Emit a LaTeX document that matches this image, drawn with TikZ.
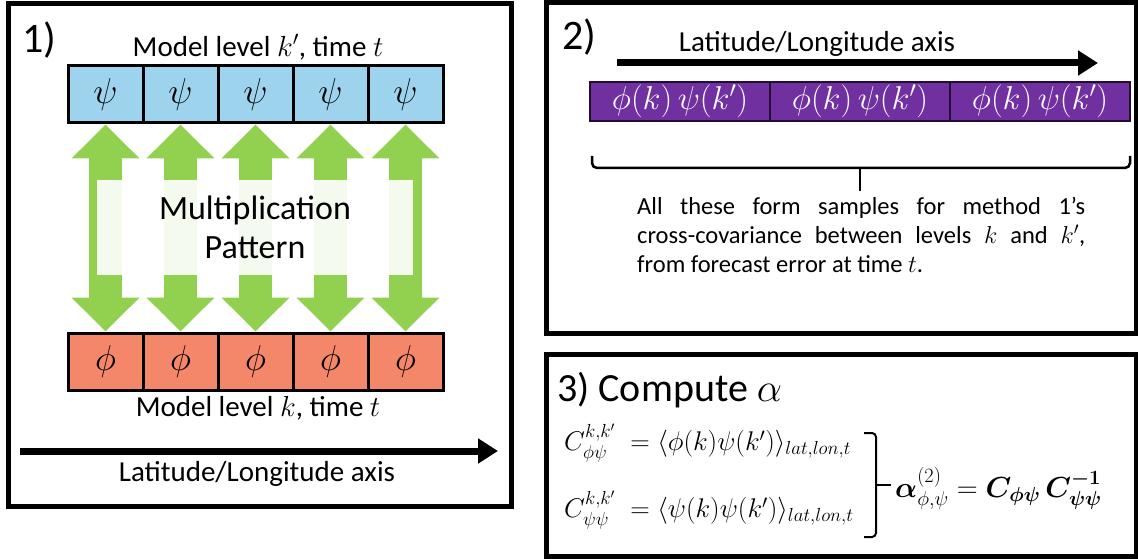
\RequirePackage{fix-cm}
\documentclass[tikz,border=0pt]{standalone}
\usepackage{amsmath,bm}
\usepackage[no-math]{fontspec}
\setmainfont{Carlito}
\usetikzlibrary{arrows.meta}
\definecolor{cellblue}{RGB}{158,211,238}
\definecolor{cellorange}{RGB}{244,135,106}
\definecolor{arrgreen}{RGB}{146,208,80}
\definecolor{purp}{RGB}{112,48,160}
\begin{document}
\begin{tikzpicture}[x=1pt,y=-1pt,
  panel/.style={draw=black,line width=5pt,inner sep=0pt},
  cellbase/.style={draw=black,line width=3pt,minimum width=75pt,minimum height=57pt,inner sep=0pt,font=\fontsize{36}{42}\selectfont},
  bluecell/.style={cellbase,fill=cellblue},
  orangecell/.style={cellbase,fill=cellorange},
  purpcell/.style={draw=black!70!purp,line width=2pt,fill=purp,minimum width=180pt,minimum height=39pt,inner sep=0pt,text=white,font=\fontsize{33}{38}\selectfont},
  greenarr/.style={draw=arrgreen,line width=33pt,{Triangle[length=34pt,width=66pt]}-{Triangle[length=34pt,width=66pt]}},
  axisarrow/.style={draw=black,line width=7pt,-{Triangle[length=20pt,width=24pt]}},
  lbl/.style={inner sep=0pt,font=\fontsize{29}{35}\selectfont},
  big/.style={inner sep=0pt,font=\fontsize{42}{50}\selectfont},
  brk/.style={draw=black,line width=2.5pt},
  eqn/.style={anchor=west,inner sep=0pt,font=\fontsize{27}{32}\selectfont}
]
\useasboundingbox (0,0) rectangle (1138,559);
% panels
\node[panel,minimum width=503pt,minimum height=502pt] (p1) at (259.5,255) {};
\node[panel,minimum width=590pt,minimum height=330pt] (p2) at (841,168) {};
\node[panel,minimum width=590pt,minimum height=202pt] (p3) at (841,455) {};
% panel 1
\node[big,anchor=west] (n1) at (22,40) {1)};
\node[lbl] (top) at (258,47) {Model level $k'$, time $t$};
\foreach \i in {1,...,5}{
  \node[bluecell] (b\i) at ({68+37.5+75*(\i-1)},94.5) {$\psi$};
  \node[orangecell] (o\i) at ({68+37.5+75*(\i-1)},361.5) {$\phi$};
}
\foreach \i in {1,...,5}{
  \draw[greenarr] (b\i.south) -- (o\i.north);
}
\node[fill=white,fill opacity=0.9,text opacity=1,minimum width=316pt,minimum height=95pt,align=center,inner sep=0pt,font=\fontsize{34}{39}\selectfont] (mult) at (255,227.5) {Multiplication\\Pattern};
\node[lbl] (bot) at (258,408) {Model level $k$, time $t$};
\coordinate (a1s) at (20,451);
\coordinate (a1e) at (498,451);
\draw[axisarrow] (a1s) -- (a1e);
\node[lbl] (ax1) at (257,474) {Latitude/Longitude axis};
% panel 2
\node[big,anchor=west] (n2) at (562,37) {2)};
\node[lbl] (ax2) at (817,44) {Latitude/Longitude axis};
\coordinate (a2s) at (617,63);
\coordinate (a2e) at (1098,63);
\draw[axisarrow] (a2s) -- (a2e);
\foreach \i in {1,2,3}{
  \node[purpcell] (c\i) at ({590+90+180*(\i-1)},101.5) {$\phi(k)\,\psi(k')$};
}
\coordinate (brL) at (592,156);
\coordinate (brR) at (1130,156);
\coordinate (brM) at (860,168);
\coordinate (brT) at (860,191);
\draw[brk,rounded corners=5pt] (brL) -- (592,168) -- (1130,168) -- (brR);
\draw[brk] (brM) -- (brT);
\node[anchor=north west,inner sep=0pt,text width=448pt,align=justify,font=\fontsize{24.5}{29}\selectfont] (note) at (637,197)
{\hyphenpenalty=10000 \exhyphenpenalty=10000 All these form samples for method 1's\linebreak cross-covariance between levels $k$ and $k'$,\linebreak from forecast error at time $t$.};
% panel 3
\node[anchor=west,inner sep=0pt,font=\fontsize{40}{48}\selectfont] (n3) at (557,390) {3) Compute $\alpha$};
\node[eqn] (eq1) at (564,443)
{$C^{k,k'}_{\phi\psi}\;=\langle\phi(k)\psi(k')\rangle_{lat,lon,t}$};
\node[eqn] (eq2) at (564,510)
{$C^{k,k'}_{\psi\psi}\;=\langle\psi(k)\psi(k')\rangle_{lat,lon,t}$};
\coordinate (bkT) at (864,433);
\coordinate (bkB) at (864,537);
\coordinate (bkM) at (876,485);
\coordinate (bkE) at (891,485);
\draw[brk,line width=2pt,rounded corners=4pt] (bkT) -- (876,433) -- (876,537) -- (bkB);
\draw[brk,line width=2pt] (bkM) -- (bkE);
\node[anchor=west,inner sep=0pt,font=\fontsize{29}{35}\selectfont] (alpha) at (895,488)
{$\bm{\alpha}^{(2)}_{\phi,\psi}=\bm{C}_{\bm{\phi\psi}}\,\bm{C}^{\bm{-1}}_{\bm{\psi\psi}}$};
\end{tikzpicture}
\end{document}
